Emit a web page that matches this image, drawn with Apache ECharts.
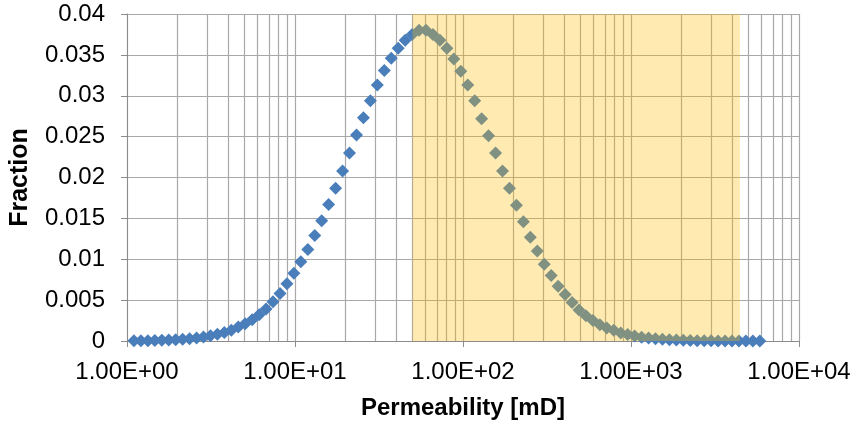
<!DOCTYPE html>
<html>
<head>
<meta charset="utf-8">
<script src="https://cdn.jsdelivr.net/npm/echarts@6/dist/echarts.min.js"></script>
<style>
  html, body { margin: 0; padding: 0; background: #fff; }
  #chart { width: 857px; height: 425px; }
</style>
</head>
<body>
<div id="chart"></div>
<script>
// Permeability classes [mD] (geometric spacing, ratio 1.1)
const permeability = [
  1.1, 1.21, 1.331, 1.464, 1.611, 1.772, 1.949, 2.144, 2.358, 2.594,
  2.853, 3.138, 3.452, 3.797, 4.177, 4.595, 5.054, 5.560, 6.116, 6.727,
  7.400, 8.140, 8.954, 9.850, 10.83, 11.92, 13.11, 14.42, 15.86, 17.45,
  19.19, 21.11, 23.23, 25.55, 28.10, 30.91, 34.00, 37.40, 41.14, 45.26,
  49.79, 54.76, 60.24, 66.26, 72.89, 80.18, 88.20, 97.02, 106.7, 117.4,
  129.1, 142.0, 156.2, 171.9, 189.1, 208.0, 228.8, 251.6, 276.8, 304.5,
  334.9, 368.4, 405.3, 445.8, 490.4, 539.4, 593.4, 652.7, 718.0, 789.7,
  868.7, 955.6, 1051, 1156, 1272, 1399, 1539, 1693, 1862, 2048,
  2253, 2478, 2726, 2999, 3299, 3629, 3991, 4391, 4830, 5313, 5844
];

// Fraction of samples in each permeability class
const fraction = [
  0.00002, 0.00003, 0.00004, 0.00006, 0.00008, 0.00011, 0.00015, 0.0002, 0.00027, 0.00037,
  0.00049, 0.00064, 0.00082, 0.00104, 0.0013, 0.0017, 0.0021, 0.0026, 0.0032, 0.0039,
  0.0048, 0.0058, 0.0070, 0.0083, 0.0097, 0.0112, 0.0129, 0.0147, 0.0167, 0.0187,
  0.0208, 0.0230, 0.0252, 0.0273, 0.0294, 0.0313, 0.0331, 0.0346, 0.0358, 0.0368,
  0.0375, 0.0380, 0.0380, 0.0375, 0.0368, 0.0358, 0.0345, 0.0330, 0.0313, 0.0294,
  0.0272, 0.0251, 0.0230, 0.0208, 0.0187, 0.0166, 0.0146, 0.0127, 0.0110, 0.0094,
  0.0080, 0.0067, 0.0057, 0.0047, 0.0038, 0.0031, 0.0025, 0.0020, 0.0016, 0.0013,
  0.00099, 0.00078, 0.00061, 0.00047, 0.00036, 0.00027, 0.0002, 0.00015, 0.00011, 0.00008,
  0.00006, 0.00004, 0.00003, 0.00002, 0.00001, 0.00001, 0.00001, 0.000005, 0.000005, 0.000003, 0.000002
];

// Highlighted permeability window [mD]
const windowRange = [50, 4450];

// Decade tick labels
const xTickLabels = ['1.00E+00', '1.00E+01', '1.00E+02', '1.00E+03', '1.00E+04'];

// Intermediate log grid positions (2..9 of each decade)
const minorGrid = [
  2, 3, 4, 5, 6, 7, 8, 9,
  20, 30, 40, 50, 60, 70, 80, 90,
  200, 300, 400, 500, 600, 700, 800, 900,
  2000, 3000, 4000, 5000, 6000, 7000, 8000, 9000
];

const FONT = '"Liberation Sans", Arial, sans-serif';
const GRID_COLOR = '#a8a8a8';
const AXIS_COLOR = '#8c8c8c';

const chart = echarts.init(document.getElementById('chart'), null, { renderer: 'canvas' });

chart.setOption({
  animation: false,
  backgroundColor: '#ffffff',
  grid: { left: 124, right: 58, top: 14, bottom: 81, containLabel: false },
  xAxis: {
    type: 'log',
    logBase: 10,
    min: 1,
    max: 10000,
    name: 'Permeability [mD]',
    nameLocation: 'middle',
    nameGap: 55,
    nameTextStyle: { fontFamily: FONT, fontSize: 24, fontWeight: 'bold', color: '#000' },
    axisLine: { lineStyle: { color: AXIS_COLOR, width: 1 } },
    axisTick: { show: true, inside: false, length: 6, lineStyle: { color: AXIS_COLOR } },
    axisLabel: {
      fontFamily: FONT, fontSize: 24, color: '#000', margin: 19,
      formatter: function (v) {
        const i = Math.round(Math.log10(v));
        return xTickLabels[i] !== undefined ? xTickLabels[i] : '';
      }
    },
    splitLine: { show: true, lineStyle: { color: GRID_COLOR, width: 1.2 } }
  },
  yAxis: {
    type: 'value',
    min: 0,
    max: 0.04,
    interval: 0.005,
    name: 'Fraction',
    nameLocation: 'middle',
    nameGap: 94,
    nameRotate: 90,
    nameTextStyle: { fontFamily: FONT, fontSize: 25, fontWeight: 'bold', color: '#000' },
    axisLine: { show: true, lineStyle: { color: AXIS_COLOR, width: 1 } },
    axisTick: { show: true, inside: false, length: 6, lineStyle: { color: AXIS_COLOR } },
    axisLabel: {
      fontFamily: FONT, fontSize: 24, color: '#000', margin: 22,
      formatter: function (v) { return String(parseFloat(v.toFixed(3))); }
    },
    splitLine: { show: true, lineStyle: { color: GRID_COLOR, width: 1.2 } }
  },
  series: [
    {
      // minor vertical gridlines of the log axis
      type: 'scatter',
      data: [],
      z: 1,
      silent: true,
      markLine: {
        silent: true,
        z: 1,
        symbol: ['none', 'none'],
        label: { show: false },
        lineStyle: { color: GRID_COLOR, width: 1.2, type: 'solid' },
        data: minorGrid.map(v => ({ xAxis: v }))
      }
    },
    {
      name: 'Fraction',
      type: 'scatter',
      z: 3,
      symbol: 'diamond',
      symbolSize: 13,
      itemStyle: { color: '#4a7ebb', opacity: 1 },
      data: permeability.map((k, i) => [k, fraction[i]])
    },
    {
      // translucent highlight drawn above the points
      type: 'scatter',
      data: [],
      z: 10,
      silent: true,
      markArea: {
        silent: true,
        z: 10,
        itemStyle: { color: 'rgba(255, 190, 0, 0.3)' },
        data: [[{ xAxis: windowRange[0], yAxis: 0 }, { xAxis: windowRange[1], yAxis: 0.04 }]]
      }
    }
  ]
});
</script>
</body>
</html>
